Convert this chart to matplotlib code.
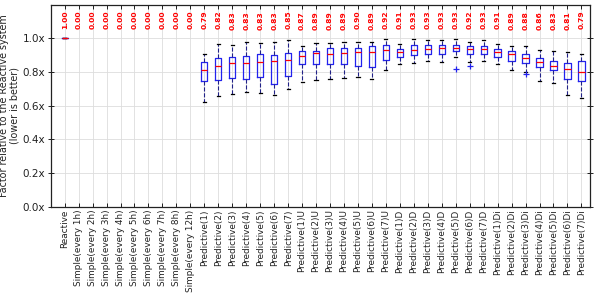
import matplotlib
matplotlib.use('Agg')
import matplotlib.pyplot as plt

categories = ['Reactive',
              'Simple(every 1h)', 'Simple(every 2h)', 'Simple(every 3h)', 'Simple(every 4h)',
              'Simple(every 5h)', 'Simple(every 6h)', 'Simple(every 7h)', 'Simple(every 8h)',
              'Simple(every 12h)',
              'Predictive(1)', 'Predictive(2)', 'Predictive(3)', 'Predictive(4)',
              'Predictive(5)', 'Predictive(6)', 'Predictive(7)',
              'Predictive(1)U', 'Predictive(2)U', 'Predictive(3)U', 'Predictive(4)U',
              'Predictive(5)U', 'Predictive(6)U', 'Predictive(7)U',
              'Predictive(1)D', 'Predictive(2)D', 'Predictive(3)D', 'Predictive(4)D',
              'Predictive(5)D', 'Predictive(6)D', 'Predictive(7)D',
              'Predictive(1)Di', 'Predictive(2)Di', 'Predictive(3)Di', 'Predictive(4)Di',
              'Predictive(5)Di', 'Predictive(6)Di', 'Predictive(7)Di']

mean_labels = [1.00, 0.00, 0.00, 0.00, 0.00, 0.00, 0.00, 0.00, 0.00, 0.00,
               0.79, 0.82, 0.83, 0.83, 0.83, 0.83, 0.85,
               0.87, 0.89, 0.89, 0.89, 0.90, 0.89, 0.92,
               0.91, 0.93, 0.93, 0.93, 0.93, 0.92, 0.93,
               0.91, 0.89, 0.88, 0.86, 0.83, 0.81, 0.79]

N = None
box_whislo = [1.0, N, N, N, N, N, N, N, N, N,
              0.620, 0.657, 0.669, 0.678, 0.673, 0.661, 0.699,
              0.740, 0.754, 0.760, 0.765, 0.772, 0.759, 0.813,
              0.848, 0.854, 0.863, 0.858, 0.891, 0.859, 0.864,
              0.848, 0.814, 0.798, 0.749, 0.733, 0.661, 0.645]
box_q1 = [1.0, N, N, N, N, N, N, N, N, N,
          0.749, 0.752, 0.762, 0.757, 0.768, 0.730, 0.777,
          0.848, 0.846, 0.850, 0.850, 0.834, 0.829, 0.871,
          0.888, 0.898, 0.904, 0.906, 0.922, 0.908, 0.908,
          0.888, 0.868, 0.856, 0.829, 0.809, 0.760, 0.744]
box_med = [1.0, N, N, N, N, N, N, N, N, N,
           0.811, 0.837, 0.852, 0.854, 0.861, 0.868, 0.874,
           0.892, 0.912, 0.908, 0.914, 0.916, 0.918, 0.931,
           0.918, 0.930, 0.936, 0.941, 0.943, 0.934, 0.934,
           0.917, 0.908, 0.882, 0.860, 0.836, 0.819, 0.801]
box_q3 = [1.0, N, N, N, N, N, N, N, N, N,
          0.861, 0.884, 0.888, 0.894, 0.904, 0.903, 0.911,
          0.923, 0.927, 0.940, 0.940, 0.940, 0.954, 0.963,
          0.934, 0.958, 0.959, 0.960, 0.963, 0.953, 0.952,
          0.936, 0.922, 0.904, 0.884, 0.866, 0.854, 0.868]
box_whishi = [1.0, N, N, N, N, N, N, N, N, N,
              0.904, 0.965, 0.962, 0.976, 0.972, 0.976, 0.988,
              0.953, 0.970, 0.970, 0.978, 0.978, 0.981, 0.997,
              0.964, 0.994, 0.992, 0.992, 0.994, 0.979, 0.990,
              0.964, 0.956, 0.952, 0.932, 0.924, 0.920, 0.908]
box_fliers = {'Predictive(5)D': [0.819], 'Predictive(6)D': [0.834],
              'Predictive(3)Di': [0.789]}

yticks = [0.0, 0.2, 0.4, 0.6, 0.8, 1.0]

fig = plt.figure(figsize=(6, 2.94), dpi=100)
ax = fig.add_axes([0.0845, 0.2976, 0.8985, 0.6864])

stats, positions = [], []
for i, cat in enumerate(categories):
    if box_med[i] is None:
        continue
    stats.append(dict(med=box_med[i], q1=box_q1[i], q3=box_q3[i],
                      whislo=box_whislo[i], whishi=box_whishi[i],
                      fliers=box_fliers.get(cat, []), label=cat))
    positions.append(i + 1)

ax.bxp(stats, positions=positions, widths=0.45, manage_ticks=False,
       boxprops=dict(color='#2222ee', lw=0.9),
       whiskerprops=dict(color='#222288', ls='--', lw=0.8),
       capprops=dict(color='black', lw=0.9),
       medianprops=dict(color='red', lw=0.9),
       flierprops=dict(marker='+', markeredgecolor='#2222ee', markersize=5,
                       markeredgewidth=0.9))

for i, m in enumerate(mean_labels):
    ax.text(i + 1, 1.108, f'{m:.2f}', rotation=90, ha='center', va='center',
            color='red', fontsize=5.4, fontweight='semibold')

ax.set_xlim(0, 38.6)
ax.set_ylim(0, 1.2)
ax.set_xticks(range(1, len(categories) + 1))
ax.set_xticklabels(categories, rotation=90, fontsize=6.4, color='#222222')
ax.set_yticks(yticks)
ax.set_yticklabels([f'{v:.1f}x' for v in yticks], fontsize=7.5, color='#222222')
ax.tick_params(axis='x', direction='in', top=True, length=3, width=0.6, pad=2)
ax.tick_params(axis='y', direction='inout', right=True, length=4, width=0.6, pad=2)
ax.grid(True, color='#dddddd', lw=0.6)
ax.set_axisbelow(True)
for s in ax.spines.values():
    s.set_color('#222222')
    s.set_linewidth(0.9)
ax.set_ylabel('Factor relative to the Reactive system\n(lower is better)',
              fontsize=6.9, color='#222222', labelpad=2, linespacing=1.1)

fig.savefig('out.png', dpi=100)
